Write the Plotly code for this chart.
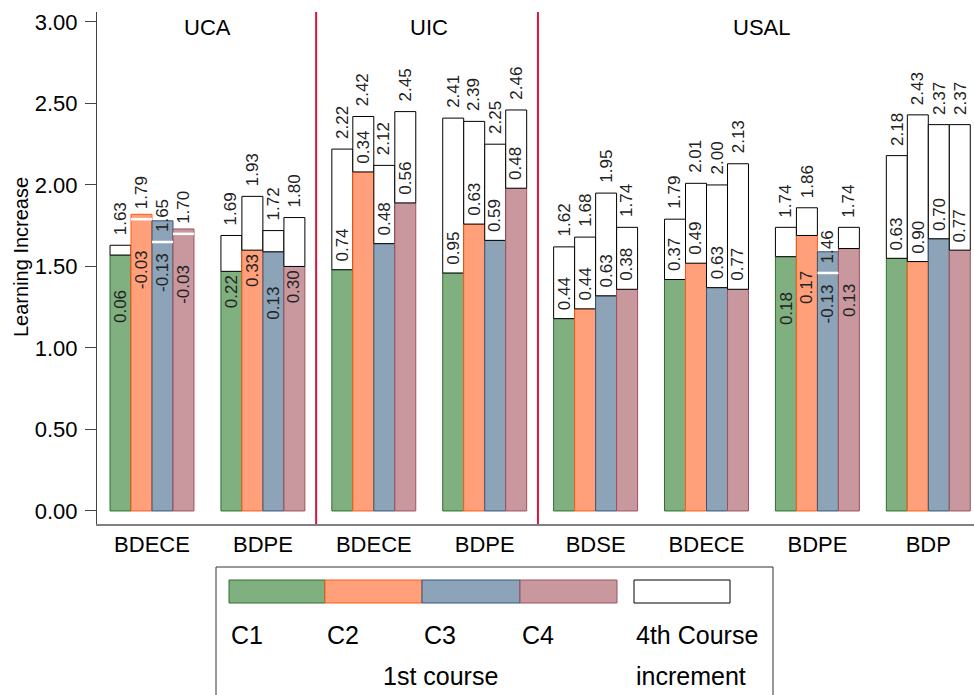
import plotly.graph_objects as go

# ---------------- data ----------------
programs = ["BDECE", "BDPE", "BDECE", "BDPE", "BDSE", "BDECE", "BDPE", "BDP"]
universities = ["UCA", "UIC", "USAL"]
programs_per_university = [2, 2, 4]
courses = ["C1", "C2", "C3", "C4"]

# learning increase measured in the 1st course
first_c1 = [1.57, 1.47, 1.48, 1.46, 1.18, 1.42, 1.56, 1.55]
first_c2 = [1.82, 1.60, 2.08, 1.76, 1.24, 1.52, 1.69, 1.53]
first_c3 = [1.78, 1.59, 1.64, 1.66, 1.32, 1.37, 1.59, 1.67]
first_c4 = [1.73, 1.50, 1.89, 1.98, 1.36, 1.36, 1.61, 1.60]

# learning increase measured in the 4th course
fourth_c1 = [1.63, 1.69, 2.22, 2.41, 1.62, 1.79, 1.74, 2.18]
fourth_c2 = [1.79, 1.93, 2.42, 2.39, 1.68, 2.01, 1.86, 2.43]
fourth_c3 = [1.65, 1.72, 2.12, 2.25, 1.95, 2.00, 1.46, 2.37]
fourth_c4 = [1.70, 1.80, 2.45, 2.46, 1.74, 2.13, 1.74, 2.37]

y_ticks = [0.0, 0.5, 1.0, 1.5, 2.0, 2.5, 3.0]

# ---------------- style ----------------
first_all = [first_c1, first_c2, first_c3, first_c4]
fourth_all = [fourth_c1, fourth_c2, fourth_c3, fourth_c4]
fills = ["#80B080", "#FFA07A", "#8CA3B8", "#C8989E"]
edges = ["#2E6E2E", "#FF5A14", "#34567A", "#A0505C"]
offsets = [-0.284, -0.0947, 0.0947, 0.284]
bw = 0.189
FONT = "Liberation Sans, Arial, sans-serif"

W, H = 974, 695
L, R, T, B = 97, 0, 12, 171
pw, ph = W - L - R, H - T - B


def px(x):
    return (x - L) / pw


def py(y):
    return (H - B - y) / ph


fig = go.Figure()
annotations = []
white_x, white_y = [], []

for k in range(4):
    first = first_all[k]
    fourth = fourth_all[k]
    xs = [g + offsets[k] for g in range(len(programs))]
    incs = [round(f4 - f1, 2) for f1, f4 in zip(first, fourth)]
    fig.add_trace(go.Bar(
        x=xs, y=first, width=bw, name=courses[k],
        marker=dict(color=fills[k], line=dict(color=edges[k], width=1)),
        hoverinfo="skip"))
    fig.add_trace(go.Bar(
        x=xs, y=[i if i > 0 else None for i in incs], base=first, width=bw,
        name="4th Course increment",
        marker=dict(color="white", line=dict(color="black", width=1)),
        hoverinfo="skip"))
    for x, f1, f4, inc in zip(xs, first, fourth, incs):
        # total label (4th course value)
        annotations.append(dict(
            x=x, y=f4, xref="x", yref="y", text=f"{f4:.2f}", textangle=-90,
            showarrow=False, xanchor="center", yanchor="bottom", yshift=9,
            borderpad=0, font=dict(family=FONT, size=17, color="#222")))
        # increment label
        if inc >= 0.335:
            ya, yv, ys = "bottom", f1, 7
        elif inc > 0:
            ya, yv = "top", f1
            ys = -34 if inc < 0.2 else -3
        else:
            ya, yv = "top", f4
            ys = -10 if abs(inc) > 0.1 else -30
            white_x += [x - bw / 2, x + bw / 2, None]
            white_y += [f4, f4, None]
        annotations.append(dict(
            x=x, y=yv, xref="x", yref="y", text=f"{inc:.2f}", textangle=-90,
            showarrow=False, xanchor="center", yanchor=ya, yshift=ys,
            borderpad=0, font=dict(family=FONT, size=17, color="#222")))

fig.add_trace(go.Scatter(x=white_x, y=white_y, mode="lines",
                         line=dict(color="white", width=2.5), hoverinfo="skip"))

# separators and university titles
shapes = []
start = 0
for u, n in zip(universities, programs_per_university):
    center = start + (n - 1) / 2
    annotations.append(dict(
        x=center, y=py(27), xref="x", yref="paper", text=u, showarrow=False,
        xanchor="center", yanchor="middle",
        font=dict(family=FONT, size=22, color="black")))
    start += n
    if start < len(programs):
        shapes.append(dict(type="line", xref="x", yref="paper",
                           x0=start - 0.52, x1=start - 0.52, y0=0, y1=1,
                           line=dict(color="#DC143C", width=2)))

# y title
annotations.append(dict(
    x=px(21), y=py(257), xref="paper", yref="paper", text="Learning Increase",
    textangle=-90, showarrow=False, xanchor="center", yanchor="middle",
    font=dict(family=FONT, size=20, color="black")))

# legend (drawn manually)
shapes.append(dict(type="rect", xref="paper", yref="paper",
                   x0=px(216), x1=px(773), y0=py(567), y1=py(760),
                   line=dict(color="#333", width=1), fillcolor="white", layer="below"))
sw_x = [229, 325, 422, 520, 617]
for k in range(4):
    shapes.append(dict(type="rect", xref="paper", yref="paper",
                       x0=px(sw_x[k]), x1=px(sw_x[k + 1]), y0=py(603), y1=py(580),
                       line=dict(color=edges[k], width=1), fillcolor=fills[k]))
    annotations.append(dict(
        x=px(sw_x[k]), y=py(635), xref="paper", yref="paper", text=courses[k],
        showarrow=False, xanchor="left", yanchor="middle",
        font=dict(family=FONT, size=25, color="black")))
shapes.append(dict(type="rect", xref="paper", yref="paper",
                   x0=px(634), x1=px(730), y0=py(603), y1=py(580),
                   line=dict(color="black", width=1), fillcolor="white"))
annotations.append(dict(
    x=px(634), y=py(635), xref="paper", yref="paper", text="4th Course",
    showarrow=False, xanchor="left", yanchor="middle",
    font=dict(family=FONT, size=25, color="black")))
annotations.append(dict(
    x=px(634), y=py(676), xref="paper", yref="paper", text="increment",
    showarrow=False, xanchor="left", yanchor="middle",
    font=dict(family=FONT, size=25, color="black")))
annotations.append(dict(
    x=px(440), y=py(676), xref="paper", yref="paper", text="1st course",
    showarrow=False, xanchor="center", yanchor="middle",
    font=dict(family=FONT, size=25, color="black")))

fig.update_layout(
    width=W, height=H, margin=dict(l=L, r=R, t=T, b=B),
    barmode="overlay", showlegend=False,
    plot_bgcolor="white", paper_bgcolor="white",
    font=dict(family=FONT, color="black"),
    xaxis=dict(range=[-0.496, 7.412], tickvals=list(range(len(programs))),
               ticktext=programs, showline=True, linecolor="#808080", linewidth=2,
               ticks="", showgrid=False, zeroline=False, ticklabelstandoff=0,
               tickfont=dict(family=FONT, size=22, color="black")),
    yaxis=dict(range=[-0.08, 3.061], tickvals=y_ticks, tickformat=".2f",
               ticks="outside", ticklen=11, tickcolor="#444", showline=True,
               linecolor="#444", linewidth=1, showgrid=False, zeroline=False,
               ticklabelstandoff=3,
               tickfont=dict(family=FONT, size=22, color="black")),
    annotations=annotations, shapes=shapes,
)

fig.write_html(
    "out.html",
    config={"displayModeBar": False},
    post_script="document.body.style.margin='0px';document.body.style.overflow='hidden';",
)
